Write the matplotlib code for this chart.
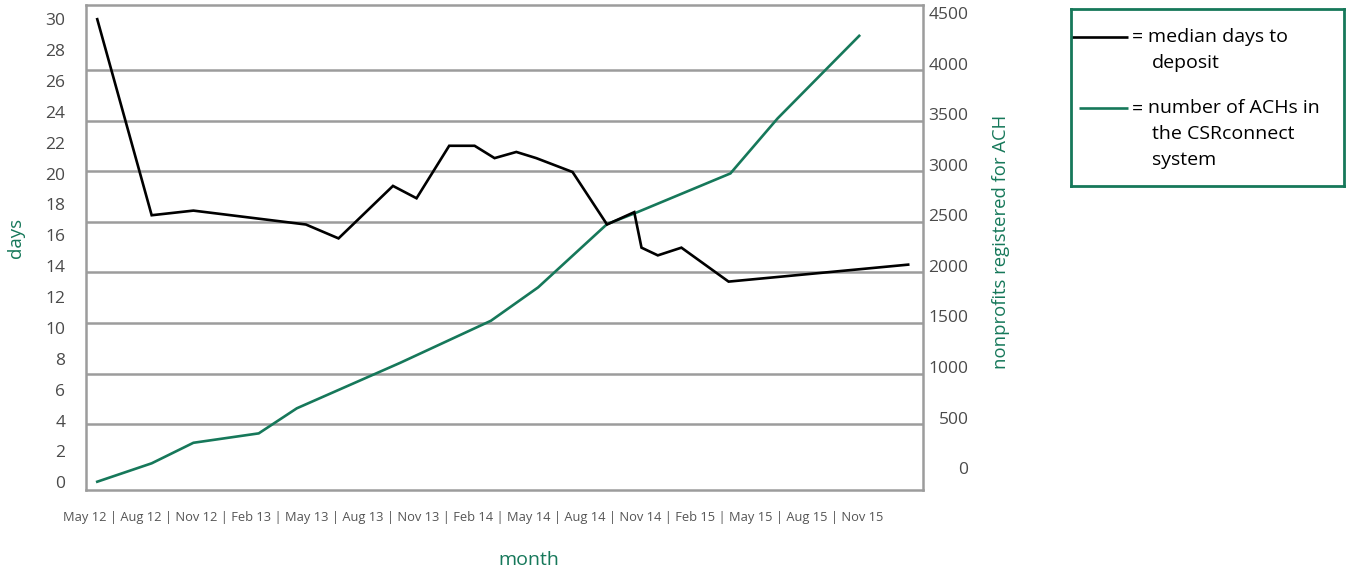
import matplotlib
matplotlib.use("Agg")
import matplotlib.pyplot as plt
from matplotlib.transforms import ScaledTranslation

plt.rcParams['font.family'] = ['Open Sans', 'DejaVu Sans']

GREEN = '#16785a'
GRID = '#9c9c9c'
TICK = '#4a4a4a'

# quarter labels along the bottom
tick_labels = ['May 12', 'Aug 12', 'Nov 12', 'Feb 13', 'May 13', 'Aug 13', 'Nov 13',
               'Feb 14', 'May 14', 'Aug 14', 'Nov 14', 'Feb 15', 'May 15', 'Aug 15', 'Nov 15']

# median days to deposit (x = months since May 12)
days_x = [0, 3.0, 5.3, 11.5, 13.3, 16.3, 17.6, 19.4, 20.8, 21.9, 23.1, 24.2, 26.2,
          28.1, 29.6, 30.0, 30.9, 32.2, 34.8, 44.7]
days_y = [30.0, 17.3, 17.6, 16.7, 15.8, 19.2, 18.4, 21.8, 21.8, 21.0, 21.4, 21.0, 20.1,
          16.7, 17.5, 15.2, 14.7, 15.2, 13.0, 14.1]

# number of ACHs in the CSRconnect system
ach_x = [0, 3.0, 5.3, 8.9, 11.0, 16.7, 21.7, 24.3, 28.1, 29.6, 34.9, 37.5, 42.0]
ach_y = [-70, 112, 315, 408, 656, 1106, 1522, 1852, 2478, 2583, 2979, 3523, 4340]

days_ticks = list(range(0, 31, 2))
ach_ticks = list(range(0, 4501, 500))
grid_levels = list(range(500, 4001, 500))

fig = plt.figure(figsize=(13.46, 5.73), dpi=100)
ax = fig.add_axes([86/1346, 1-490/573, (922.7-86)/1346, 485/573])
ax2 = ax.twinx()

# right axis carries grid + green line, left axis (on top) the black line
ax.set_zorder(ax2.get_zorder() + 1)
ax.patch.set_visible(False)

for g in grid_levels:
    ax2.axhline(g, color=GRID, lw=1.8, zorder=1)
ax2.plot(ach_x, ach_y, color=GREEN, lw=1.9, solid_joinstyle='miter', zorder=2)
ax.plot(days_x, days_y, color='black', lw=1.9, solid_joinstyle='miter')

ax.set_xlim(-0.62, 45.5)
ax.set_ylim(-0.5, 30.92)
ax2.set_ylim(-152, 4645)

ax.set_xticks([])
ax.set_yticks(days_ticks)
ax.tick_params(axis='y', length=0, pad=15, labelsize=12.5, labelcolor=TICK)

ax2.set_yticks(ach_ticks)
ax2.tick_params(axis='y', length=0, pad=33, labelsize=12.5, labelcolor=TICK)
for lab in ax2.get_yticklabels():
    lab.set_horizontalalignment('right')
    lab.set_transform(lab.get_transform() + ScaledTranslation(0, 6.5/100, fig.dpi_scale_trans))

for s in ax.spines.values():
    s.set_color(GRID)
    s.set_linewidth(1.8)
for s in ax2.spines.values():
    s.set_visible(False)

ax.set_ylabel('days', color=GREEN, fontsize=13.5)
ax.yaxis.set_label_coords(-0.073, 0.52)
fig.text(1001/1346, 1-242/573, 'nonprofits registered for ACH', color=GREEN, fontsize=13.3,
         rotation=90, ha='center', va='center')

fig.text(473/1346, 1-518/573, ' | '.join(tick_labels), color='#555555', fontsize=9.3,
         ha='center', va='center')
fig.text(529/1346, 1-560/573, 'month', color=GREEN, fontsize=14, ha='center', va='center')

# hand-made legend box
lax = fig.add_axes([1071/1346, 1-186/573, (1344-1071)/1346, 177/573])
lax.set_xlim(0, 1)
lax.set_ylim(0, 1)
lax.set_xticks([])
lax.set_yticks([])
for s in lax.spines.values():
    s.set_color(GREEN)
    s.set_linewidth(2)

def row(y, color, x0, lines):
    lax.plot([x0, 0.21], [y, y], color=color, lw=1.9, solid_capstyle='butt')
    lax.text(0.222, y, '=', fontsize=14, va='center', ha='left')
    lax.text(0.283, y, lines[0], fontsize=14, va='center', ha='left')
    for i, t in enumerate(lines[1:], 1):
        lax.text(0.297, y - i*0.147, t, fontsize=14, va='center', ha='left')

row(1-27.7/177, 'black', 0.0, ['median days to', 'deposit'])
row(1-99.3/177, GREEN, 0.03, ['number of ACHs in', 'the CSRconnect', 'system'])

fig.savefig('out.png', dpi=100)
